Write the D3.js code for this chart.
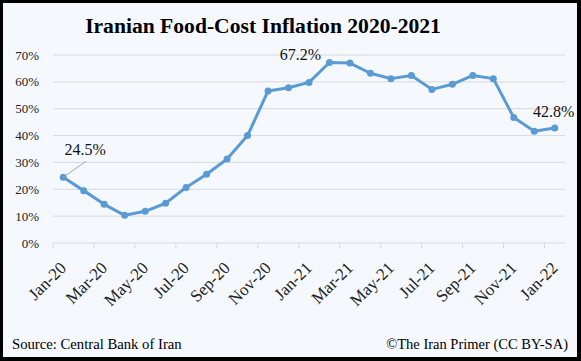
<!DOCTYPE html>
<html>
<head>
    <meta charset="utf-8">
    <title>Iranian Food-Cost Inflation</title>
    <style>
        body { margin: 0; background: #000; }
        text { font-family: "Liberation Serif", "Times New Roman", serif; }
    </style>
</head>
<body>
    <script src="https://cdnjs.cloudflare.com/ajax/libs/d3/7.9.0/d3.min.js"></script>
    <script>
        const months = ["Jan-20","Feb-20","Mar-20","Apr-20","May-20","Jun-20","Jul-20","Aug-20","Sep-20","Oct-20","Nov-20","Dec-20",
                        "Jan-21","Feb-21","Mar-21","Apr-21","May-21","Jun-21","Jul-21","Aug-21","Sep-21","Oct-21","Nov-21","Dec-21","Jan-22"];
        const inflation = [24.5, 19.5, 14.4, 10.3, 11.8, 14.8, 20.7, 25.6, 31.3, 40.0, 56.6, 57.8,
                           59.8, 67.2, 67.0, 63.2, 61.2, 62.4, 57.2, 59.1, 62.4, 61.2, 46.7, 41.6, 42.8];
        const yTicks = [0, 10, 20, 30, 40, 50, 60, 70];
        const labelled = ["Jan-20", "Feb-21", "Jan-22"];

        const width = 581;
        const height = 361;
        const margin = {top: 55, right: 16, bottom: 118, left: 53};

        const svg = d3.select("body")
            .append("svg")
            .attr("width", width)
            .attr("height", height)
            .style("display", "block");

        // frame
        svg.append("rect")
            .attr("x", 0).attr("y", 0)
            .attr("width", width).attr("height", height)
            .attr("fill", "#000");
        svg.append("rect")
            .attr("x", 3).attr("y", 3)
            .attr("width", 574).attr("height", 354)
            .attr("fill", "#F5F9FD");

        const x = d3.scaleBand()
            .domain(months)
            .range([margin.left, width - margin.right])
            .padding(0);

        const y = d3.scaleLinear()
            .domain([0, 70])
            .range([height - margin.bottom, margin.top]);

        // grid
        svg.append("g")
            .selectAll("line")
            .data(yTicks.filter(d => d > 0))
            .join("line")
            .attr("x1", margin.left)
            .attr("x2", width - margin.right)
            .attr("y1", d => y(d))
            .attr("y2", d => y(d))
            .attr("stroke", "#D9D9D9")
            .attr("stroke-width", 1);

        // y labels
        svg.append("g")
            .selectAll("text")
            .data(yTicks)
            .join("text")
            .attr("x", 39)
            .attr("y", d => y(d))
            .attr("dy", "0.35em")
            .attr("text-anchor", "end")
            .attr("font-size", 13)
            .attr("fill", "#222")
            .text(d => d + "%");

        // x axis
        const xAxis = svg.append("g");
        xAxis.append("line")
            .attr("x1", margin.left)
            .attr("x2", width - margin.right)
            .attr("y1", y(0))
            .attr("y2", y(0))
            .attr("stroke", "#D9D9D9");
        xAxis.selectAll(".tick")
            .data(months.filter((d, i) => i % 2 === 0))
            .join("line")
            .attr("class", "tick")
            .attr("x1", d => x(d))
            .attr("x2", d => x(d))
            .attr("y1", y(0))
            .attr("y2", y(0) + 5)
            .attr("stroke", "#D9D9D9");
        xAxis.selectAll(".lbl")
            .data(months.filter((d, i) => i % 2 === 0))
            .join("text")
            .attr("class", "lbl")
            .attr("transform", d => `translate(${x(d) + x.bandwidth() / 2 + 4},${y(0) + 26}) rotate(-45)`)
            .attr("text-anchor", "end")
            .attr("font-size", 17)
            .attr("fill", "#222")
            .text(d => d);

        // line
        const line = d3.line()
            .x((d, i) => x(months[i]) + x.bandwidth() / 2)
            .y(d => y(d));

        svg.append("path")
            .datum(inflation)
            .attr("d", line)
            .attr("fill", "none")
            .attr("stroke", "#5B9BD5")
            .attr("stroke-width", 3)
            .attr("stroke-linejoin", "round");

        svg.append("g")
            .selectAll("circle")
            .data(inflation)
            .join("circle")
            .attr("cx", (d, i) => x(months[i]) + x.bandwidth() / 2)
            .attr("cy", d => y(d))
            .attr("r", 3.5)
            .attr("fill", "#5B9BD5");

        // data labels
        const cx = m => x(m) + x.bandwidth() / 2;
        const val = m => inflation[months.indexOf(m)];

        svg.append("line")
            .attr("x1", cx("Jan-20"))
            .attr("y1", y(val("Jan-20")))
            .attr("x2", cx("Jan-20") + 23)
            .attr("y2", y(val("Jan-20")) - 16)
            .attr("stroke", "#A6A6A6");

        const labelPos = {"Jan-20": [22, -22], "Feb-21": [-29, -3], "Jan-22": [-1, -11]};
        svg.append("g")
            .selectAll("text")
            .data(labelled)
            .join("text")
            .attr("x", d => cx(d) + labelPos[d][0])
            .attr("y", d => y(val(d)) + labelPos[d][1])
            .attr("text-anchor", "middle")
            .attr("font-size", 16)
            .attr("fill", "#111")
            .text(d => val(d).toFixed(1) + "%");

        // titles
        svg.append("text")
            .attr("x", 263)
            .attr("y", 33)
            .attr("text-anchor", "middle")
            .attr("font-size", 21.6)
            .attr("font-weight", "bold")
            .attr("fill", "#000")
            .text("Iranian Food-Cost Inflation 2020-2021");

        svg.append("text")
            .attr("x", 12)
            .attr("y", 349)
            .attr("font-size", 14.7)
            .attr("fill", "#000")
            .text("Source: Central Bank of Iran");

        svg.append("text")
            .attr("x", 568)
            .attr("y", 349)
            .attr("text-anchor", "end")
            .attr("font-size", 14.5)
            .attr("fill", "#000")
            .text("\u00A9The Iran Primer (CC BY-SA)");
    </script>
</body>
</html>
